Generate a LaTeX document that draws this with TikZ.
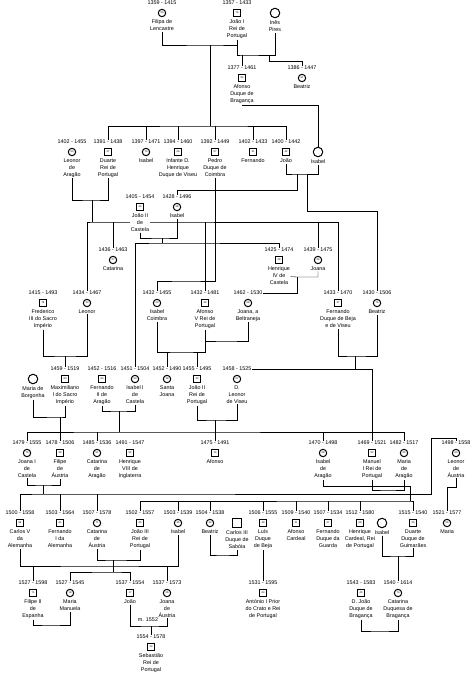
\documentclass[tikz,border=0pt]{standalone}
\usepackage{fontspec}
\setmainfont{Liberation Sans}
\usetikzlibrary{backgrounds}
\begin{document}
\begin{tikzpicture}[x=1pt, y=-1pt,
    male/.style={draw, line width=1pt, fill=white, minimum size=7.4pt, inner sep=0pt, font=\fontsize{2.6}{3}\selectfont},
    female/.style={male, circle},
    nobody/.style={draw, line width=1pt, fill=white, minimum size=9.5pt, inner sep=0pt},
    lab/.style={fill=white, inner sep=0.4pt, align=center, font=\fontsize{5.4}{7}\selectfont},
    dl/.style={lab, label distance=3.2pt},
    nl/.style={lab, label distance=2.2pt},
    link/.style={line width=1pt}
]
\useasboundingbox (0,0) rectangle (474,674);

% generation 1
\node[female, label={[dl,name=filipa-d]above:1359 - 1415}, label={[nl,name=filipa-n]below:Filipa de\\Lencastre}] (filipa) at (162,13) {56};
\node[male, label={[dl,name=joaoI-d]above:1357 - 1433}, label={[nl,name=joaoI-n]below:João I\\Rei de\\Portugal}] (joaoI) at (237,13) {76};
\node[nobody, circle, label={[nl,name=ines-n]below:Inês\\Pires}] (ines) at (275,13) {};

% generation 2
\node[male, label={[dl,name=afonsoB-d]above:1377 - 1461}, label={[nl,name=afonsoB-n]below:Afonso\\Duque de\\Bragança}] (afonsoB) at (242,78) {84};
\node[female, label={[dl,name=beatrizB-d]above:1386 - 1447}, label={[nl,name=beatrizB-n]below:Beatriz}] (beatrizB) at (302,78) {61};

\node[female, label={[dl,name=leonorA-d]above:1402 - 1455}, label={[nl,name=leonorA-n]below:Leonor\\de\\Aragão}] (leonorA) at (72,152) {53};
\node[male, label={[dl,name=duarte-d]above:1391 - 1438}, label={[nl,name=duarte-n]below:Duarte\\Rei de\\Portugal}] (duarte) at (108,152) {47};
\node[female, label={[dl,name=isabelA-d]above:1397 - 1471}, label={[nl,name=isabelA-n]below:Isabel}] (isabelA) at (146,152) {74};
\node[male, label={[dl,name=henrique-d]above:1394 - 1460}, label={[nl,name=henrique-n]below:Infante D.\\Henrique\\Duque de Viseu}] (henrique) at (178,152) {66};
\node[male, label={[dl,name=pedro-d]above:1392 - 1449}, label={[nl,name=pedro-n]below:Pedro\\Duque de\\Coimbra}] (pedro) at (215,152) {57};
\node[male, label={[dl,name=fernandoA-d]above:1402 - 1433}, label={[nl,name=fernandoA-n]below:Fernando}] (fernandoA) at (253,152) {31};
\node[male, label={[dl,name=joaoA-d]above:1400 - 1442}, label={[nl,name=joaoA-n]below:João}] (joaoA) at (286,152) {42};
\node[nobody, circle, label={[nl,name=isabelB-n]below:Isabel}] (isabelB) at (318,152) {};

% generation 3
\node[male, label={[dl,name=joaoCast-d]above:1405 - 1454}, label={[nl,name=joaoCast-n]below:João II\\de\\Castela}] (joaoCast) at (140,207) {49};
\node[female, label={[dl,name=isabelCast-d]above:1428 - 1496}, label={[nl,name=isabelCast-n]below:Isabel}] (isabelCast) at (177,207) {68};
\node[female, label={[dl,name=catarinaA-d]above:1436 - 1463}, label={[nl,name=catarinaA-n]below:Catarina}] (catarinaA) at (113,260) {27};
\node[male, label={[dl,name=henriqueIV-d]above:1425 - 1474}, label={[nl,name=henriqueIV-n]below:Henrique\\IV de\\Castela}] (henriqueIV) at (279,260) {49};
\node[female, label={[dl,name=joanaA-d]above:1439 - 1475}, label={[nl,name=joanaA-n]below:Joana}] (joanaA) at (318,260) {36};

\node[male, label={[dl,name=frederico-d]above:1415 - 1493}, label={[nl,name=frederico-n]below:Frederico\\III do Sacro\\Império}] (frederico) at (43,303) {78};
\node[female, label={[dl,name=leonorB-d]above:1434 - 1467}, label={[nl,name=leonorB-n]below:Leonor}] (leonorB) at (87,303) {33};
\node[female, label={[dl,name=isabelCo-d]above:1432 - 1455}, label={[nl,name=isabelCo-n]below:Isabel\\Coimbra}] (isabelCo) at (157,303) {23};
\node[male, label={[dl,name=afonsoV-d]above:1432 - 1481}, label={[nl,name=afonsoV-n]below:Afonso\\V Rei de\\Portugal}] (afonsoV) at (205,303) {49};
\node[female, label={[dl,name=joanaBelt-d]above:1462 - 1530}, label={[nl,name=joanaBelt-n]below:{Joana, a\\Beltraneja}}] (joanaBelt) at (248,303) {68};
\node[male, label={[dl,name=fernandoBeja-d]above:1433 - 1470}, label={[nl,name=fernandoBeja-n]below:Fernando\\Duque de Beja\\e de Viseu}] (fernandoBeja) at (338,303) {37};
\node[female, label={[dl,name=beatrizC-d]above:1430 - 1506}, label={[nl,name=beatrizC-n]below:Beatriz}] (beatrizC) at (377,303) {76};

% generation 4
\node[nobody, circle, label={[nl,name=mariaBorg-n]below:Maria de\\Borgonha}] (mariaBorg) at (33,379) {};
\node[male, label={[dl,name=maximiliano-d]above:1459 - 1519}, label={[nl,name=maximiliano-n]below:Maximiliano\\I do Sacro\\Império}] (maximiliano) at (65,379) {60};
\node[male, label={[dl,name=fernandoII-d]above:1452 - 1516}, label={[nl,name=fernandoII-n]below:Fernando\\II de\\Aragão}] (fernandoII) at (102,379) {64};
\node[female, label={[dl,name=isabelI-d]above:1451 - 1504}, label={[nl,name=isabelI-n]below:Isabel I\\de\\Castela}] (isabelI) at (135,379) {53};
\node[female, label={[dl,name=santaJoana-d]above:1452 - 1490}, label={[nl,name=santaJoana-n]below:Santa\\Joana}] (santaJoana) at (167,379) {38};
\node[male, label={[dl,name=joaoII-d]above:1455 - 1495}, label={[nl,name=joaoII-n]below:João II\\Rei de\\Portugal}] (joaoII) at (197,379) {40};
\node[female, label={[dl,name=leonorVis-d]above:1458 - 1525}, label={[nl,name=leonorVis-n]below:D.\\Leonor\\de Viseu}] (leonorVis) at (237,379) {67};

% generation 5
\node[female, label={[dl,name=joanaI-d]above:1479 - 1555}, label={[nl,name=joanaI-n]below:Joana I\\de\\Castela}] (joanaI) at (27,453) {76};
\node[male, label={[dl,name=filipe-d]above:1478 - 1506}, label={[nl,name=filipe-n]below:Filipe\\de\\Áustria}] (filipe) at (60,453) {28};
\node[female, label={[dl,name=catarinaAr-d]above:1485 - 1536}, label={[nl,name=catarinaAr-n]below:Catarina\\de\\Aragão}] (catarinaAr) at (97,453) {51};
\node[male, label={[dl,name=henriqueVIII-d]above:1491 - 1547}, label={[nl,name=henriqueVIII-n]below:Henrique\\VIII de\\Inglaterra}] (henriqueVIII) at (130,453) {56};
\node[male, label={[dl,name=afonsoC-d]above:1475 - 1491}, label={[nl,name=afonsoC-n]below:Afonso}] (afonsoC) at (215,453) {16};
\node[female, label={[dl,name=isabelAr-d]above:1470 - 1498}, label={[nl,name=isabelAr-n]below:Isabel\\de\\Aragão}] (isabelAr) at (323,453) {28};
\node[male, label={[dl,name=manuel-d]above:1469 - 1521}, label={[nl,name=manuel-n]below:Manuel\\I Rei de\\Portugal}] (manuel) at (372,453) {52};
\node[female, label={[dl,name=mariaAr-d]above:1482 - 1517}, label={[nl,name=mariaAr-n]below:Maria\\de\\Aragão}] (mariaAr) at (404,453) {35};
\node[female, label={[dl,name=leonorAu-d]above:1498 - 1558}, label={[nl,name=leonorAu-n]below:Leonor\\de\\Áustria}] (leonorAu) at (456,453) {60};

% generation 6
\node[male, label={[dl,name=carlosV-d]above:1500 - 1558}, label={[nl,name=carlosV-n]below:Carlos V\\da\\Alemanha}] (carlosV) at (20,523) {58};
\node[male, label={[dl,name=fernandoI-d]above:1503 - 1564}, label={[nl,name=fernandoI-n]below:Fernando\\I da\\Alemanha}] (fernandoI) at (60,523) {61};
\node[female, label={[dl,name=catarinaAu-d]above:1507 - 1578}, label={[nl,name=catarinaAu-n]below:Catarina\\de\\Áustria}] (catarinaAu) at (97,523) {71};
\node[male, label={[dl,name=joaoIII-d]above:1502 - 1557}, label={[nl,name=joaoIII-n]below:João III\\Rei de\\Portugal}] (joaoIII) at (140,523) {55};
\node[female, label={[dl,name=isabelC-d]above:1503 - 1539}, label={[nl,name=isabelC-n]below:Isabel}] (isabelC) at (178,523) {36};
\node[female, label={[dl,name=beatrizD-d]above:1504 - 1538}, label={[nl,name=beatrizD-n]below:Beatriz}] (beatrizD) at (210,523) {34};
\node[nobody, label={[nl,name=carlosIII-n]below:Carlos III\\Duque de\\Sabóia}] (carlosIII) at (237,523) {};
\node[male, label={[dl,name=luis-d]above:1506 - 1555}, label={[nl,name=luis-n]below:Luís\\Duque\\de Beja}] (luis) at (263,523) {49};
\node[male, label={[dl,name=afonsoCa-d]above:1509 - 1540}, label={[nl,name=afonsoCa-n]below:Afonso\\Cardeal}] (afonsoCa) at (296,523) {31};
\node[male, label={[dl,name=fernandoG-d]above:1507 - 1534}, label={[nl,name=fernandoG-n]below:Fernando\\Duque da\\Guarda}] (fernandoG) at (328,523) {27};
\node[male, label={[dl,name=henriqueCa-d]above:1512 - 1580}, label={[nl,name=henriqueCa-n]below:{Henrique\\Cardeal, Rei\\de Portugal}}] (henriqueCa) at (360,523) {68};
\node[nobody, circle, label={[nl,name=isabelD-n]below:Isabel}] (isabelD) at (382,523) {};
\node[male, label={[dl,name=duarteG-d]above:1515 - 1540}, label={[nl,name=duarteG-n]below:Duarte\\Duque de\\Guimarães}] (duarteG) at (413,523) {25};
\node[female, label={[dl,name=mariaC-d]above:1521 - 1577}, label={[nl,name=mariaC-n]below:Maria}] (mariaC) at (447,523) {56};

% generation 7
\node[male, label={[dl,name=filipeII-d]above:1527 - 1598}, label={[nl,name=filipeII-n]below:Filipe II\\de\\Espanha}] (filipeII) at (33,593) {71};
\node[female, label={[dl,name=mariaMa-d]above:1527 - 1545}, label={[nl,name=mariaMa-n]below:Maria\\Manuela}] (mariaMa) at (70,593) {18};
\node[male, label={[dl,name=joaoD-d]above:1537 - 1554}, label={[nl,name=joaoD-n]below:João}] (joaoD) at (130,593) {17};
\node[female, label={[dl,name=joanaAu-d]above:1537 - 1573}, label={[nl,name=joanaAu-n]below:Joana\\de\\Áustria}] (joanaAu) at (167,593) {36};
\node[male, label={[dl,name=antonio-d]above:1531 - 1595}, label={[nl,name=antonio-n]below:António I Prior\\do Crato e Rei\\de Portugal}] (antonio) at (263,593) {64};
\node[male, label={[dl,name=joaoBr-d]above:1543 - 1583}, label={[nl,name=joaoBr-n]below:D. João\\Duque de\\Bragança}] (joaoBr) at (361,593) {40};
\node[female, label={[dl,name=catarinaBr-d]above:1540 - 1614}, label={[nl,name=catarinaBr-n]below:Catarina\\Duquesa de\\Bragança}] (catarinaBr) at (398,593) {74};
\node[male, label={[dl,name=sebastiao-d]above:1554 - 1578}, label={[nl,name=sebastiao-n]below:Sebastião\\Rei de\\Portugal}] (sebastiao) at (151,647) {24};
\node[lab] (casamento) at (148,620) {m. 1552};

\begin{scope}[on background layer, link]
% couples and children
\coordinate (c1) at (210,45);
\coordinate (b1) at (210,126);
\draw (filipa-n) |- (c1) -| (joaoI-n);
\draw (c1) -- (b1);
\draw (duarte-d) |- (b1) -| (joaoA-d);
\foreach \p in {isabelA,henrique,pedro,fernandoA} \draw (\p-d) -- (\p-d |- b1);

\coordinate (c2) at (242,55);
\coordinate (c2b) at (269,55);
\draw (joaoI-n) |- (c2) -| (ines-n);
\draw (c2) -- (afonsoB-d);
\draw (c2b) -- ++(0,6) -| (beatrizB-d);
\draw (afonsoB-n) -- ++(0,11) -| (isabelB);

\coordinate (c3) at (92,200);
\coordinate (b3) at (92,222);
\draw (leonorA-n) |- (c3) -| (duarte-n);
\draw (c3) -- (b3);
\draw (leonorB-d) |- (b3) -| (fernandoBeja-d);
\foreach \p in {catarinaA,afonsoV,joanaA} \draw (\p-d) -- (\p-d |- b3);

\coordinate (c4) at (186,281);
\draw (pedro-n) |- (c4) -| (isabelCo-d);

\coordinate (c5) at (297,174);
\coordinate (c5b) at (307,174);
\draw (joaoA-n) |- (c5) -| (isabelB-n);
\draw (c5) -- ++(0,16) -| (isabelCast-d);
\draw (c5b) -- ++(0,37) -| (beatrizC-d);

\coordinate (c6) at (162,238);
\coordinate (b6) at (162,243);
\draw (joaoCast-n) |- (c6) -| (isabelCast-n);
\draw (c6) -- (b6);
\draw (isabelI-d) |- (b6) -| (henriqueIV-d);

\coordinate (c7) at (297,277);
\draw (henriqueIV-n) -- (c7) -| (joanaA-n);
\draw (c7) |- (joanaBelt-d.east);

\coordinate (c8) at (65,356);
\draw (frederico-n) |- (c8) -| (leonorB-n);
\draw (c8) -- (maximiliano-d);

\coordinate (c9) at (182,352);
\draw (isabelCo-n) |- (c9) -| (afonsoV-n);
\foreach \p in {santaJoana,joaoII} \draw (\p-d) -- (\p-d |- c9);

\coordinate (c10) at (226,341);
\draw (afonsoV-n) |- (c10) -| (joanaBelt-n);

\coordinate (c11) at (355,356);
\draw (fernandoBeja-n) |- (c11) -| (beatrizC-n);
\draw (c11) -- (c11 |- leonorVis-d.east);
\draw (leonorVis-d.east) -| (manuel-d);

\coordinate (c12) at (60,417);
\draw (mariaBorg-n) |- (c12) -| (maximiliano-n);
\draw (c12) -- (filipe-d);

\coordinate (c13) at (119,411);
\coordinate (b13) at (119,432);
\draw (fernandoII-n) |- (c13) -| (isabelI-n);
\draw (c13) -- (b13);
\draw (joanaI-d) |- (b13) -| (mariaAr-d);
\foreach \p in {catarinaAr,isabelAr} \draw (\p-d) -- (\p-d |- b13);

\coordinate (c14) at (215,420);
\draw (joaoII-n) |- (c14) -| (leonorVis-n);
\draw (c14) -- (afonsoC-d);

\coordinate (c15) at (43,485);
\coordinate (b15) at (43,494);
\coordinate (c15b) at (431,438);
\draw (joanaI-n) |- (c15) -| (filipe-n);
\draw (c15) -- (b15);
\draw (carlosV-d) |- (b15) -| (c15b) -| (leonorAu-d);
\foreach \p in {fernandoI,catarinaAu} \draw (\p-d) -- (\p-d |- b15);

\coordinate (c16) at (410,486);
\coordinate (b16) at (410,501);
\draw (isabelAr-n) |- (c16) -- (b16);
\draw (joaoIII-d) |- (b16) -| (duarteG-d);
\foreach \p in {isabelC,beatrizD,luis,afonsoCa,fernandoG,henriqueCa} \draw (\p-d) -- (\p-d |- b16);
\coordinate (c17) at (388,490);
\draw (manuel-n) |- (c17) -| (mariaAr-n);
\coordinate (c18) at (447,487);
\draw (leonorAu-n) |- (c18) -- (mariaC-d);

\coordinate (c19) at (113,560);
\coordinate (b19) at (113,572);
\draw (catarinaAu-n) |- (c19) -| (joaoIII-n);
\draw (c19) -- (b19);
\draw (mariaMa-d) |- (b19) -| (joaoD-d);

\coordinate (c20) at (100,566);
\draw (carlosV-n) |- (c20) -| (isabelC-n);
\foreach \p in {filipeII,joanaAu} \draw (\p-d) -- (\p-d |- c20);

\coordinate (c21) at (222,555);
\draw (beatrizD-n) |- (c21) -| (carlosIII-n);
\draw (luis-n) -- (antonio-d);

\coordinate (c22) at (398,556);
\draw (isabelD-n) |- (c22) -| (duarteG-n);
\draw (c22) -- (catarinaBr-d);

\coordinate (c23) at (50,625);
\draw (filipeII-n) |- (c23) -| (mariaMa-n);
\coordinate (c24) at (151,626);
\draw (joaoD-n) |- (c24) -| (joanaAu-n);
\draw (c24) -- (sebastiao-d);
\coordinate (c25) at (380,631);
\draw (joaoBr-n) |- (c25) -| (catarinaBr-n);
\end{scope}
\end{tikzpicture}
\end{document}
